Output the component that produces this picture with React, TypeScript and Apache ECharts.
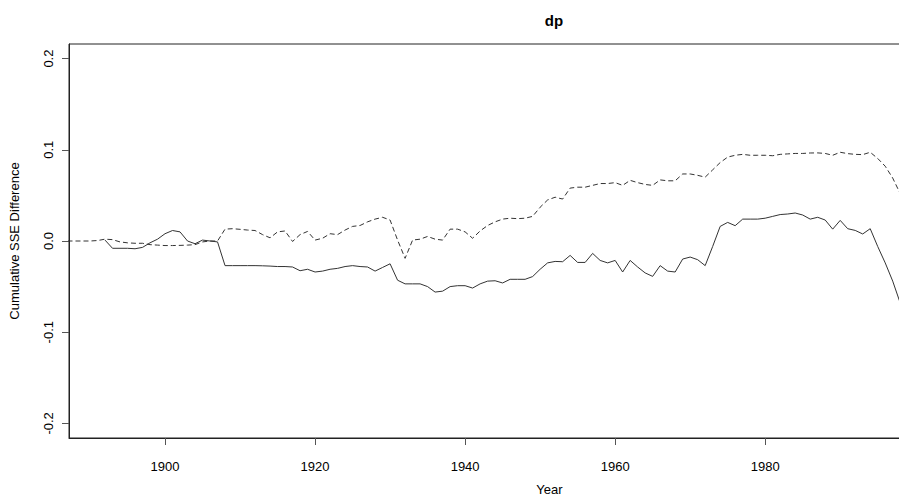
import React, { useEffect, useRef } from "react";
import * as echarts from "echarts";

// Solid series (starts 1892)
const solidStart = 1892;
const solidValues: number[] = [
  0.001, -0.008, -0.008, -0.008, -0.0085, -0.007, -0.002, 0.002, 0.008, 0.0115,
  0.010, 0.0, -0.003, 0.001, 0.0, -0.001, -0.027, -0.027, -0.027, -0.027,
  -0.027, -0.0272, -0.0275, -0.028, -0.028, -0.0285, -0.0326, -0.031, -0.034, -0.033,
  -0.031, -0.030, -0.028, -0.027, -0.028, -0.0285, -0.033, -0.029, -0.025, -0.043,
  -0.047, -0.047, -0.047, -0.050, -0.056, -0.055, -0.050, -0.049, -0.049, -0.0516,
  -0.047, -0.044, -0.0436, -0.046, -0.042, -0.042, -0.042, -0.039, -0.031, -0.024,
  -0.0224, -0.0227, -0.0158, -0.0235, -0.0235, -0.0136, -0.0213, -0.024, -0.0213, -0.034,
  -0.0213, -0.0285, -0.035, -0.0388, -0.027, -0.033, -0.034, -0.0198, -0.0176, -0.0205,
  -0.027, -0.006, 0.016, 0.0204, 0.0168, 0.024, 0.024, 0.024, 0.025, 0.027,
  0.029, 0.0296, 0.0307, 0.0285, 0.024, 0.026, 0.023, 0.013, 0.0226, 0.0135,
  0.0116, 0.0077, 0.0135, -0.006, -0.024, -0.044, -0.068,
];

// Dashed series (starts 1887)
const dashedStart = 1887;
const dashedValues: number[] = [
  0, 0, 0, 0, 0.0005, 0.002, 0.0015, -0.001, -0.002, -0.0025,
  -0.0025, -0.004, -0.0045, -0.005, -0.005, -0.0048, -0.0045, -0.004, -0.001, 0,
  0, 0.013, 0.0135, 0.0128, 0.012, 0.0115, 0.007, 0.0035, 0.010, 0.011,
  -0.0005, 0.007, 0.0105, 0.001, 0.003, 0.008, 0.007, 0.012, 0.016, 0.017,
  0.021, 0.024, 0.026, 0.023, 0.001, -0.019, 0.001, 0.002, 0.005, 0.002,
  0.001, 0.013, 0.013, 0.010, 0.003, 0.011, 0.017, 0.021, 0.024, 0.025,
  0.0245, 0.025, 0.027, 0.037, 0.045, 0.048, 0.046, 0.058, 0.059, 0.059,
  0.061, 0.063, 0.063, 0.064, 0.061, 0.0665, 0.064, 0.062, 0.061, 0.067,
  0.066, 0.066, 0.0735, 0.0735, 0.072, 0.070, 0.078, 0.086, 0.092, 0.094,
  0.095, 0.094, 0.094, 0.094, 0.0935, 0.095, 0.0955, 0.096, 0.096, 0.0965,
  0.0966, 0.096, 0.094, 0.0973, 0.0958, 0.095, 0.0947, 0.0973, 0.0905, 0.082,
  0.069, 0.052,
];

const xTicks = [1900, 1920, 1940, 1960, 1980];
const yTicks = [-0.2, -0.1, 0, 0.1, 0.2];

const FONT = "'Liberation Sans', Arial, sans-serif";

export default function App() {
  const ref = useRef<HTMLDivElement>(null);
  useEffect(() => {
    if (!ref.current) return;
    const chart = echarts.init(ref.current, undefined, { renderer: "svg" });
    const solidData = solidValues.map((v, i) => [solidStart + i, v]);
    const dashedData = dashedValues.map((v, i) => [dashedStart + i, v]);
    chart.setOption({
      animation: false,
      backgroundColor: "#ffffff",
      textStyle: { fontFamily: FONT },
      title: {
        text: "dp",
        left: 549,
        top: 8,
        textAlign: "center",
        textStyle: { fontFamily: FONT, fontSize: 15, fontWeight: "bold", color: "#000" },
      },
      grid: {
        left: 69,
        right: 0,
        top: 44,
        bottom: 60,
        show: true,
        borderColor: "#222",
        borderWidth: 1,
        backgroundColor: "transparent",
        containLabel: false,
        outerBoundsMode: "none",
      },
      xAxis: {
        type: "value",
        min: 1887.2,
        max: 2015.3,
        name: "Year",
        nameLocation: "middle",
        nameGap: 45,
        nameTextStyle: { fontFamily: FONT, fontSize: 13, color: "#000" },
        axisLine: { show: true, onZero: false, lineStyle: { color: "#222", width: 1 } },
        axisTick: { show: true, length: 7, customValues: xTicks, lineStyle: { color: "#555" } },
        axisLabel: {
          customValues: xTicks,
          margin: 22,
          fontFamily: FONT,
          fontSize: 13,
          color: "#000",
          formatter: (v: number) => String(v),
        },
        splitLine: { show: false },
      },
      yAxis: {
        type: "value",
        min: -0.216,
        max: 0.216,
        name: "Cumulative SSE Difference",
        nameLocation: "middle",
        nameGap: 48,
        nameRotate: 90,
        nameTextStyle: { fontFamily: FONT, fontSize: 13, color: "#000" },
        axisLine: { show: true, onZero: false, lineStyle: { color: "#222", width: 1 } },
        axisTick: { show: true, length: 7, customValues: yTicks, lineStyle: { color: "#555" } },
        axisLabel: {
          customValues: yTicks,
          rotate: 90,
          margin: 14,
          fontFamily: FONT,
          fontSize: 13,
          color: "#000",
          formatter: (v: number) => v.toFixed(1),
        },
        splitLine: { show: false },
      },
      series: [
        {
          type: "line",
          data: dashedData,
          showSymbol: false,
          clip: true,
          lineStyle: { color: "#333", width: 1, type: [5, 3] },
          z: 2,
        },
        {
          type: "line",
          data: solidData,
          showSymbol: false,
          clip: true,
          lineStyle: { color: "#333", width: 1 },
          z: 3,
        },
      ],
    });
    return () => chart.dispose();
  }, []);
  return (
    <div style={{ position: "fixed", left: 0, top: 0, width: 899, height: 498, overflow: "hidden", background: "#fff" }}>
      <div ref={ref} style={{ width: 1030, height: 498 }} />
    </div>
  );
}
